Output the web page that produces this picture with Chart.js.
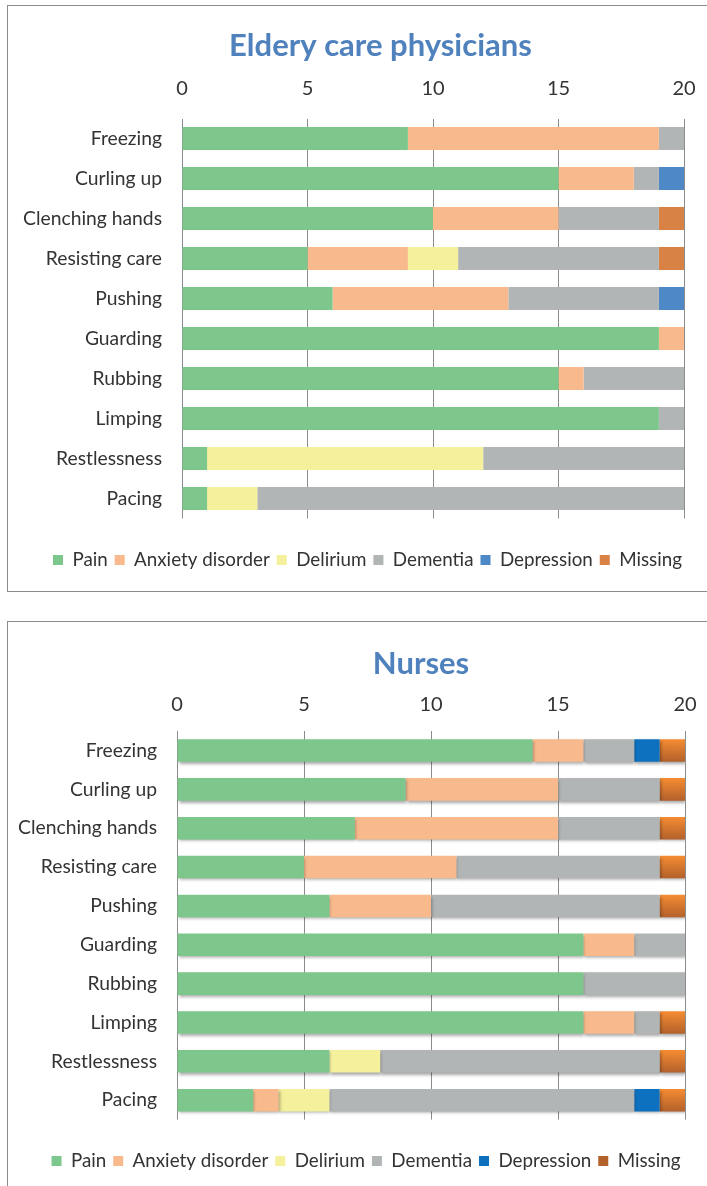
<!DOCTYPE html>
<html><head><meta charset="utf-8">
<script src="https://cdn.jsdelivr.net/npm/chart.js@4.4.1/dist/chart.umd.min.js"></script>
<style>
html,body{margin:0;padding:0;background:#fff;width:707px;height:1186px;overflow:hidden;position:relative}
.box{position:absolute;border:1px solid #8c8c8c;box-sizing:border-box}
canvas{position:absolute;left:0}
</style></head><body>
<div class="box" style="left:7px;top:5px;width:720px;height:587px"></div>
<div class="box" style="left:7px;top:621px;width:720px;height:600px"></div>
<canvas id="c1" width="707" height="600" style="top:0"></canvas>
<canvas id="c2" width="707" height="586" style="top:600px"></canvas>
<script>
// ---- data ----
const categories = ['Freezing','Curling up','Clenching hands','Resisting care','Pushing','Guarding','Rubbing','Limping','Restlessness','Pacing'];
const xTicks = [0, 5, 10, 15, 20];
const seriesNames = ['Pain','Anxiety disorder','Delirium','Dementia','Depression','Missing'];

const physPain       = [9, 15, 10, 5, 6, 19, 15, 19, 1, 1];
const physAnxiety    = [10, 3, 5, 4, 7, 1, 1, 0, 0, 0];
const physDelirium   = [0, 0, 0, 2, 0, 0, 0, 0, 11, 2];
const physDementia   = [1, 1, 4, 8, 6, 0, 4, 1, 8, 17];
const physDepression = [0, 1, 0, 0, 1, 0, 0, 0, 0, 0];
const physMissing    = [0, 0, 1, 1, 0, 0, 0, 0, 0, 0];

const nursePain       = [14, 9, 7, 5, 6, 16, 16, 16, 6, 3];
const nurseAnxiety    = [2, 6, 8, 6, 4, 2, 0, 2, 0, 1];
const nurseDelirium   = [0, 0, 0, 0, 0, 0, 0, 0, 2, 2];
const nurseDementia   = [2, 4, 4, 8, 9, 2, 4, 1, 11, 12];
const nurseDepression = [1, 0, 0, 0, 0, 0, 0, 0, 0, 1];
const nurseMissing    = [1, 1, 1, 1, 1, 0, 0, 1, 1, 1];

// ---- styling ----
const FONT = 'Lato, "Open Sans", sans-serif';
const LABEL_SIZE = 19.3;
const TICK_SIZE = 20;
const LEGEND_SIZE = 18.8;
const TITLE_SIZE = 31;
const TEXT_COLOR = '#333333';
const TITLE_COLOR = '#4F81BD';
const BAR_PCT = 0.58;

const colorsTop = ['#7DC78C', '#F8BA8C', '#F4F09B', '#B2B5B5', '#4F88C7', '#D88345'];
const colorsBottom = ['#7DC78C', '#F8BA8C', '#F4F09B', '#B2B5B5', '#0E71BF', '#D4722C'];

function gradientMissing(ctx) {
  const solid = '#D4722C';
  if (ctx.type !== 'data') return solid;
  const chart = ctx.chart, yS = chart.scales.y, area = chart.chartArea;
  if (!yS || !area) return solid;
  const yc = yS.getPixelForValue(ctx.dataIndex);
  const h = (area.bottom - area.top) / categories.length * BAR_PCT;
  const g = chart.ctx.createLinearGradient(0, yc - h / 2, 0, yc + h / 2);
  g.addColorStop(0, '#F58C32');
  g.addColorStop(1, '#B3612B');
  return g;
}

function makeChart(id, titleText, series, colors, L) {
  const lh = s => s * 1.2;
  const titlePadTop = L.titleCY - lh(TITLE_SIZE) / 2;
  const titleBottom = titlePadTop + lh(TITLE_SIZE);
  const xAxisH = L.chartTop - titleBottom;
  // tick labels placed through their line height (padding 0 keeps the right edge free)
  const tickLineH = 2 * (L.chartTop - L.tickCY);
  const canvasH = document.getElementById(id).height;
  const canvasW = document.getElementById(id).width;
  const legendH = canvasH - L.chartBottom;
  const legendPad = 7;

  const datasets = seriesNames.map((name, i) => ({
    label: name,
    data: series[i],
    backgroundColor: (L.gradient && i === 5) ? gradientMissing : colors[i],
    borderWidth: 0,
    barPercentage: BAR_PCT,
    categoryPercentage: 1
  }));

  const layoutPlugin = {
    id: 'layoutFix',
    beforeLayout(chart) {
      const lg = chart.legend;
      if (lg && !lg._patched) {
        const f = lg.fit;
        lg.fit = function () { f.call(this); this.height = legendH; };
        lg._patched = true;
      }
    },
    afterLayout(chart) {
      const t = chart.titleBlock;
      if (t) {
        const dx = L.titleCX - (t.left + t.right) / 2;
        t.left += dx; t.right += dx;
      }
      const lg = chart.legend;
      if (lg) {
        const dx = L.legendCX - (lg.left + lg.right) / 2;
        lg.left += dx; lg.right += dx;
        const top = L.legendCY - legendPad - LEGEND_SIZE / 2;
        lg.top = top; lg.bottom = top + legendH;
      }
    }
  };
  const shadowPlugin = {
    id: 'barShadow',
    beforeDatasetsDraw(chart) {
      if (!L.shadow) return;
      const c = chart.ctx;
      c.save();
      c.shadowColor = 'rgba(0,0,0,0.35)';
      c.shadowBlur = 3;
      c.shadowOffsetX = 1;
      c.shadowOffsetY = 2;
    },
    afterDatasetsDraw(chart) {
      if (!L.shadow) return;
      chart.ctx.restore();
    }
  };

  return new Chart(document.getElementById(id), {
    type: 'bar',
    data: { labels: categories, datasets },
    options: {
      indexAxis: 'y',
      responsive: false,
      animation: false,
      devicePixelRatio: 1,
      layout: { padding: { left: 0, right: canvasW - L.chartRight, top: 0, bottom: 0 } },
      scales: {
        x: {
          type: 'linear', position: 'top', stacked: true, min: 0, max: 20,
          afterBuildTicks: s => { s.ticks = xTicks.map(v => ({ value: v })); },
          afterFit: s => { s.height = xAxisH; },
          grid: { color: '#8c8c8c', lineWidth: 1, drawTicks: false, tickLength: 0 },
          border: { display: false },
          ticks: { font: { family: FONT, size: TICK_SIZE, lineHeight: tickLineH + 'px' }, color: TEXT_COLOR, padding: 0, maxRotation: 0 }
        },
        y: {
          type: 'category', stacked: true,
          afterFit: s => { s.width = L.chartLeft; },
          grid: { display: false, drawTicks: false, tickLength: 0 },
          border: { display: false },
          ticks: { font: { family: FONT, size: LABEL_SIZE }, color: TEXT_COLOR, padding: L.chartLeft - L.labelRight, autoSkip: false }
        }
      },
      plugins: {
        title: {
          display: true, text: titleText, color: TITLE_COLOR,
          font: { family: FONT, size: TITLE_SIZE, weight: 'bold', lineHeight: 1.2 },
          padding: { top: titlePadTop, bottom: 0 }
        },
        legend: {
          position: 'bottom',
          labels: {
            font: { family: FONT, size: LEGEND_SIZE }, color: TEXT_COLOR,
            boxWidth: 10, boxHeight: 10, padding: legendPad
          }
        },
        tooltip: { enabled: false }
      }
    },
    plugins: [layoutPlugin, shadowPlugin]
  });
}

makeChart('c1', 'Eldery care physicians',
  [physPain, physAnxiety, physDelirium, physDementia, physDepression, physMissing], colorsTop,
  { chartTop: 118.5, chartBottom: 518.5, chartLeft: 182, chartRight: 684, labelRight: 162,
    titleCY: 46, titleCX: 380.5, tickCY: 89, legendCY: 560, legendCX: 367.5, shadow: false, gradient: false });

makeChart('c2', 'Nurses',
  [nursePain, nurseAnxiety, nurseDelirium, nurseDementia, nurseDepression, nurseMissing], colorsBottom,
  { chartTop: 131.1, chartBottom: 519.6, chartLeft: 177, chartRight: 685, labelRight: 157,
    titleCY: 64, titleCX: 421, tickCY: 105, legendCY: 561, legendCX: 366, shadow: true, gradient: true });
</script>
</body></html>
